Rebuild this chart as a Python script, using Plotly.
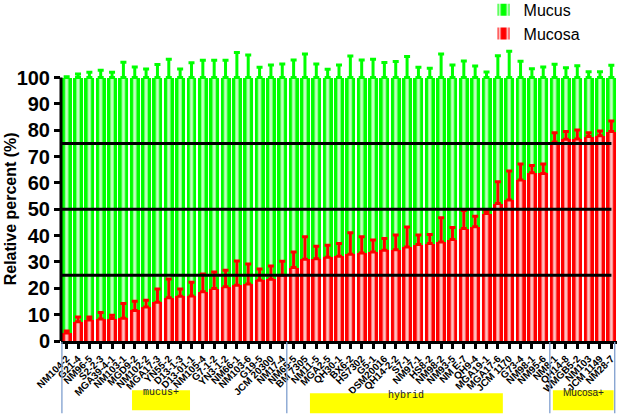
import plotly.graph_objects as go

# ---------------- data ----------------
strains = [
    "NM104-2", "G21-4", "NM96-5", "S2-2-3", "MGA39-4-1", "NM103-1", "MGD9-2",
    "NM102-2", "MGA17-3", "YN55-2", "D13-1-3", "D13-01-1", "NM105-4", "G7-1-2",
    "YN3-1-2", "NM66-1", "NM103-6", "G19-5", "JCM 20300", "NM17-4",
    "NM65-5", "BM 7305", "NM11-5", "MGA2-5", "QH30-1", "BX6-2", "HS7302",
    "G5-1", "DSM20016", "QH14-2-2", "S7-1", "NM97-1", "HS8-2", "NM98-2",
    "NM93-5", "NM E-7", "QH9-4", "MGA19-1", "MGA17-6", "JCM 1170", "G73-4",
    "NM98-1", "NM95-6",
    "NM8-1", "QH14-8", "WMGB5-2", "NM103", "JCM 1149", "NM28-7",
]
mucosa = [3.0, 7.3, 8.0, 8.4, 8.5, 8.6, 11.6, 12.9, 14.7, 16.4, 17.0, 17.1,
          18.7, 19.9, 20.6, 21.2, 21.6, 23.1, 23.4, 25.0,
          27.9, 31.0, 31.2, 31.8, 32.2, 32.9, 33.4, 33.8, 34.5, 34.6, 35.7,
          36.6, 37.0, 37.6, 38.5, 42.7, 43.4, 48.4, 52.2, 53.5, 61.1, 63.9, 63.6,
          75.6, 76.6, 76.7, 77.6, 77.9, 79.5]
mucosa_err_top = [3.8, 9.1, 9.1, 10.8, 9.8, 14.2, 15.1, 15.5, 19.7, 23.5, 19.7, 22.3,
                  25.4, 26.2, 26.9, 30.4, 29.2, 27.3, 28.5, 30.3,
                  33.8, 39.6, 36.0, 36.4, 37.0, 41.1, 39.6, 38.3, 38.9, 40.2, 43.3,
                  40.2, 40.4, 46.8, 43.1, 49.5, 47.4, 49.5, 60.5, 64.5, 67.2, 66.6, 67.2,
                  79.1, 79.5, 80.1, 79.1, 79.7, 83.5]
mucus_err_top = [100.3, 101.4, 102.0, 102.8, 102.0, 105.8, 104.0, 103.3, 105.0, 107.0,
                 103.3, 105.6, 106.6, 106.6, 106.6, 109.5, 108.6, 103.9, 104.8, 105.2,
                 106.7, 109.0, 105.2, 103.2, 104.8, 108.2, 106.7, 107.0, 105.7, 106.1,
                 108.0, 103.9, 103.6, 109.0, 104.8, 106.3, 104.4, 102.1, 108.3, 110.0,
                 106.2, 103.4, 104.0, 105.1, 103.7, 104.5, 102.2, 102.2, 104.7]
group_names = ["mucus+", "hybrid", "Mucosa+"]
group_sizes = [20, 23, 6]
y_ticks = [0, 10, 20, 30, 40, 50, 60, 70, 80, 90, 100]
ref_lines = [25, 50, 75]

# ---------------- derived ----------------
n = len(strains)
xs = list(range(n))
mucus = [100 - v for v in mucosa]
stack_top = [a + b for a, b in zip(mucosa, mucus)]
mucosa_err = [c - v for c, v in zip(mucosa_err_top, mucosa)]
mucus_err = [c - t for c, t in zip(mucus_err_top, stack_top)]

W, H = 625, 420
ML, MR, MT, MB = 61, 8, 46, 79
plot_w = W - ML - MR
step = plot_w / n

GREEN = "#00ff00"
RED = "#ff0000"

def pattern():
    return dict(shape="|", fgcolor="white", fgopacity=0.75, size=step,
                solidity=0.28, fillmode="overlay")

fig = go.Figure()
fig.add_trace(go.Bar(x=xs, y=mucosa, name="Mucosa", legendrank=2,
                     marker=dict(color=RED, line=dict(width=0), pattern=pattern())))
fig.add_trace(go.Bar(x=xs, y=mucus, name="Mucus", legendrank=1,
                     marker=dict(color=GREEN, line=dict(width=0), pattern=pattern())))
# error bars (only upward)
fig.add_trace(go.Scatter(x=xs, y=stack_top, mode="markers", showlegend=False,
                         hoverinfo="skip",
                         marker=dict(size=1, color="rgba(0,0,0,0)"),
                         error_y=dict(type="data", symmetric=False, array=mucus_err,
                                      arrayminus=[0] * n, color=GREEN, thickness=3, width=3)))
fig.add_trace(go.Scatter(x=xs, y=mucosa, mode="markers", showlegend=False,
                         hoverinfo="skip",
                         marker=dict(size=1, color="rgba(0,0,0,0)"),
                         error_y=dict(type="data", symmetric=False, array=mucosa_err,
                                      arrayminus=[0] * n, color=RED, thickness=3, width=3)))

shapes = []
for v in ref_lines:
    shapes.append(dict(type="line", xref="x domain", yref="y", x0=0, x1=0.99,
                       y0=v, y1=v, line=dict(color="black", width=3), layer="above"))
# y axis line only from 0 to 100
shapes.append(dict(type="line", xref="x domain", yref="y", x0=0, x1=0,
                   y0=y_ticks[0], y1=y_ticks[-1], line=dict(color="black", width=3)))

# group separators and boxes
separators = [-0.42, 19.4, 42.58, 48.3]
for sx in separators:
    shapes.append(dict(type="line", xref="x", yref="paper", x0=sx, x1=sx,
                       y0=-0.003, y1=-0.245, line=dict(color="#7f9fcf", width=1.3)))

boxes = [(5.76, 10.87, -0.167, -0.235, "Liberation Mono"),
         (21.44, 38.44, -0.177, -0.245, "Liberation Mono"),
         (42.85, 48.2, -0.167, -0.235, "Liberation Sans")]
annotations = []
for name, (x0, x1, y0, y1, fam) in zip(group_names, boxes):
    shapes.append(dict(type="rect", xref="x", yref="paper", x0=x0, x1=x1,
                       y0=y0, y1=y1, fillcolor="#ffff00", line=dict(width=0)))
    annotations.append(dict(x=(x0 + x1) / 2, y=(y0 + y1) / 2, xref="x", yref="paper",
                            text=name, showarrow=False,
                            font=dict(family=fam, size=10, color="#222222")))

annotations.append(dict(text="Relative percent (%)", textangle=-90, xref="paper",
                        yref="y", x=(10 - ML) / plot_w, y=50, showarrow=False,
                        xanchor="center", yanchor="middle",
                        font=dict(family="Liberation Sans", size=16, color="black",
                                  weight="bold")))

fig.update_layout(
    width=W, height=H,
    margin=dict(l=ML, r=MR, t=MT, b=MB, autoexpand=False),
    barmode="stack", bargap=0.12,
    plot_bgcolor="white", paper_bgcolor="white",
    showlegend=True,
    legend=dict(x=0.76, y=1.18, xanchor="left", yanchor="top",
                font=dict(family="Liberation Sans", size=16, color="black"),
                bgcolor="rgba(0,0,0,0)", traceorder="normal"),
    xaxis=dict(range=[-0.5, n - 0.5], tickmode="array", tickvals=xs, ticktext=strains,
               tickangle=-45,
               tickfont=dict(family="Liberation Sans", size=10, color="black", weight="bold"),
               showline=True, linecolor="black", linewidth=3, ticks="outside",
               ticklen=5, tickwidth=2.5, tickcolor="black", showgrid=False, zeroline=False),
    yaxis=dict(range=[0, 112], tickmode="array", tickvals=y_ticks,
               tickfont=dict(family="Liberation Sans", size=20, color="black", weight="bold"),
               showline=False, ticks="outside", ticklen=6, tickwidth=2.5,
               tickcolor="black", showgrid=False, zeroline=False),
    shapes=shapes, annotations=annotations,
)

fig.write_html("out.html", config={"displayModeBar": False},
               post_script="document.body.style.margin='0';document.body.style.padding='0';")
